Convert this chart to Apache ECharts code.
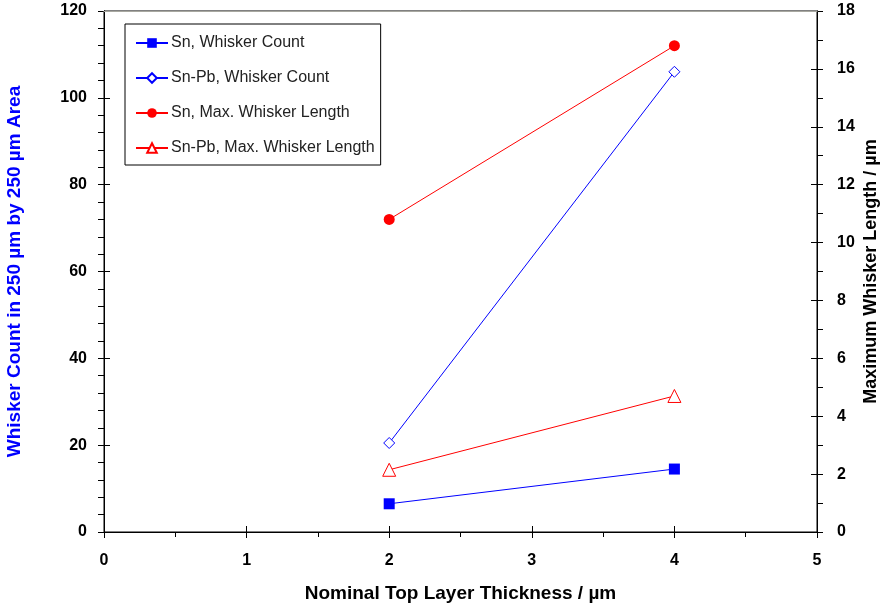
<!DOCTYPE html>
<html><head><meta charset="utf-8">
<script src="https://cdn.jsdelivr.net/npm/echarts@6/dist/echarts.min.js"></script>
<style>html,body{margin:0;padding:0;background:#fff;overflow:hidden}#c{width:880px;height:607px}</style>
</head><body><div id="c"></div>
<script>
const thickness = [2, 4];
const snCount = [6.5, 14.5];
const snPbCount = [20.5, 106];
const snMaxLen = [10.8, 16.8];
const snPbMaxLen = [2.15, 4.7];
const seriesNames = ['Sn, Whisker Count','Sn-Pb, Whisker Count','Sn, Max. Whisker Length','Sn-Pb, Max. Whisker Length'];

const F = 'Liberation Sans, Arial, sans-serif';
const lab = {fontFamily:F, fontWeight:'bold', fontSize:16, color:'#000'};
const nameLab = {fontFamily:F, fontWeight:'bold', fontSize:19, color:'#000'};
const axLine = () => ({show:true, onZero:false, lineStyle:{color:'#000', width:1}});
const pts = a => thickness.map((x,i)=>[x,a[i]]);

const chart = echarts.init(document.getElementById('c'), null, {renderer:'canvas'});
chart.setOption({
  animation:false,
  grid:{left:104, right:63, top:11, bottom:75, containLabel:false, outerBoundsMode:'none',
        show:true, borderColor:'#000', borderWidth:1, backgroundColor:'transparent'},
  legend:{
    orient:'vertical', left:125, top:24,
    borderColor:'#000', borderWidth:1, padding:[11,6,9,10],
    itemWidth:32, itemHeight:12, itemGap:19,
    textStyle:{fontFamily:F, fontSize:16, color:'#222', padding:[0,0,0,-2]},
    data:seriesNames
  },
  xAxis:[{
    type:'value', min:0, max:5, interval:1,
    name:'Nominal Top Layer Thickness / µm', nameLocation:'middle', nameGap:52,
    nameTextStyle:nameLab, nameMoveOverlap:false,
    axisLine:axLine(), axisTick:{length:6, lineStyle:{color:'#000'}},
    minorTick:{show:true, splitNumber:2, length:5, lineStyle:{color:'#000'}},
    axisLabel:Object.assign({margin:21}, lab), splitLine:{show:false}
  },{
    type:'value', min:0, max:5, interval:1, position:'bottom',
    axisLine:axLine(), axisTick:{inside:true, length:6, lineStyle:{color:'#000'}},
    axisLabel:{show:false}, splitLine:{show:false}
  },{
    type:'value', min:0, max:5, interval:1, position:'top', z:5,
    axisLine:{show:true, onZero:false, lineStyle:{color:'#a8a8a0', width:1}},
    axisTick:{show:false}, axisLabel:{show:false}, splitLine:{show:false}
  }],
  yAxis:[{
    type:'value', min:0, max:120, interval:20, position:'left',
    name:'Whisker Count in 250 µm by 250 µm Area', nameLocation:'middle', nameGap:80,
    nameTextStyle:Object.assign({}, nameLab, {color:'#0000ff'}), nameMoveOverlap:false,
    axisLine:axLine(), axisTick:{length:6, lineStyle:{color:'#000'}},
    minorTick:{show:true, splitNumber:5, length:6, lineStyle:{color:'#000'}},
    axisLabel:Object.assign({margin:17}, lab), splitLine:{show:false}
  },{
    type:'value', min:0, max:18, interval:2, position:'right',
    name:'Maximum Whisker Length / µm', nameLocation:'middle', nameGap:45,
    nameTextStyle:Object.assign({}, nameLab, {fontSize:18}), nameMoveOverlap:false,
    axisLine:axLine(), axisTick:{length:6, lineStyle:{color:'#000'}},
    minorTick:{show:true, splitNumber:2, length:6, lineStyle:{color:'#000'}},
    axisLabel:Object.assign({margin:20}, lab), splitLine:{show:false}
  },{
    type:'value', min:0, max:120, interval:20, position:'left',
    axisLine:axLine(), axisTick:{inside:true, length:6, lineStyle:{color:'#000'}},
    axisLabel:{show:false}, splitLine:{show:false}
  },{
    type:'value', min:0, max:18, interval:2, position:'right',
    axisLine:axLine(), axisTick:{inside:true, length:6, lineStyle:{color:'#000'}},
    axisLabel:{show:false}, splitLine:{show:false}
  }],
  series:[
    {name:seriesNames[0], type:'line', yAxisIndex:0, data:pts(snCount),
     symbol:'rect', symbolSize:11,
     lineStyle:{color:'#0000ff', width:1}, itemStyle:{color:'#0000ff', borderWidth:0}},
    {name:seriesNames[1], type:'line', yAxisIndex:0, data:pts(snPbCount),
     symbol:'diamond', symbolSize:11,
     lineStyle:{color:'#0000ff', width:1}, itemStyle:{color:'#fff', borderColor:'#0000ff', borderWidth:1}},
    {name:seriesNames[2], type:'line', yAxisIndex:1, data:pts(snMaxLen),
     symbol:'circle', symbolSize:11,
     lineStyle:{color:'#ff0000', width:1}, itemStyle:{color:'#ff0000', borderWidth:0}},
    {name:seriesNames[3], type:'line', yAxisIndex:1, data:pts(snPbMaxLen),
     symbol:'triangle', symbolSize:13,
     lineStyle:{color:'#ff0000', width:1}, itemStyle:{color:'#fff', borderColor:'#ff0000', borderWidth:1}}
  ]
});
</script></body></html>
